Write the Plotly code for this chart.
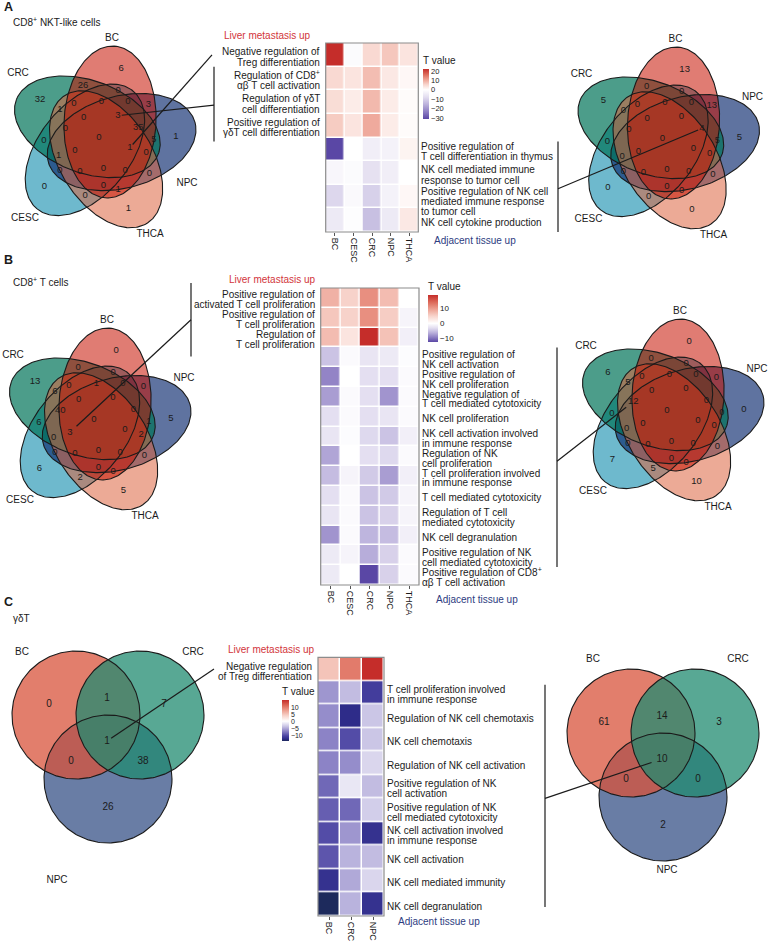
import numpy as np
import plotly.graph_objects as go

W, H = 770, 945
FONT = "Liberation Sans, Arial, Helvetica, sans-serif"
INK = "#1b1b1b"

# ====================== DATA ======================
# ---- Panel A heatmap (T values) ----
HA_COLS = ["BC", "CESC", "CRC", "NPC", "THCA"]
HA_ROWS = [
    "Negative regulation of<br>Treg differentiation",
    "Regulation of CD8<sup>+</sup><br>αβ T cell activation",
    "Regulation of γδT<br>cell differentiation",
    "Positive regulation of<br>γδT cell differentiation",
    "Positive regulation of<br>T cell differentiation in thymus",
    "NK cell mediated immune<br>response to tumor cell",
    "Positive regulation of NK cell<br>mediated immune response<br>to tumor cell",
    "NK cell cytokine production",
]
HA_T = [
    [22, -1, 5, 7, 3.5],
    [5, 3.5, 8, 3, 1],
    [4.5, 2.5, 8.5, 2.5, 0.5],
    [6.5, 3.5, 10, 2.5, 0.5],
    [-31, 0, -4, -3, 1.5],
    [-2, -1, -7, -4, 0],
    [-9, -1.5, -10, -3, 1],
    [-5, -0.5, -13, -5, 3],
]
HA_N_UP = 4
HA_TICKS = [20, 10, 0, -10, -20, -30]

# ---- Panel B heatmap ----
HB_COLS = ["BC", "CESC", "CRC", "NPC", "THCA"]
HB_ROWS = [
    "Positive regulation of<br>activated T cell proliferation",
    "Positive regulation of<br>T cell proliferation",
    "Regulation of<br>T cell proliferation",
    "Positive regulation of<br>NK cell activation",
    "Positive regulation of<br>NK cell proliferation",
    "Negative regulation of<br>T cell mediated cytotoxicity",
    "NK cell proliferation",
    "NK cell activation involved<br>in immune response",
    "Regulation of NK<br>cell proliferation",
    "T cell proliferation involved<br>in immune response",
    "T cell mediated cytotoxicity",
    "Regulation of T cell<br>mediated cytotoxicity",
    "NK cell degranulation",
    "Positive regulation of NK<br>cell mediated cytotoxicity",
    "Positive regulation of CD8<sup>+</sup><br>αβ T cell activation",
]
HB_T = [
    [8, 5, 11, 7, 0],
    [6, 5, 11, 5.5, -1],
    [7, 3, 19, 6.5, -1.5],
    [-5, -0.5, -2.5, -2, -0.3],
    [-9, 0, -3, -3, -0.5],
    [-7.5, -0.5, -3, -8, -0.5],
    [-3, -0.5, -3, -2.5, -0.5],
    [-2.5, -0.3, -3.5, -5, -1.5],
    [-7, 0, -3, -3.5, -0.5],
    [-5.5, -1, -4.5, -7.5, -1.5],
    [-3, -0.5, -5, -4.5, -1],
    [-2.5, -0.5, -5, -4, -1],
    [-8, -0.5, -6, -5.5, -1.5],
    [-2, -1, -6.5, -4, -0.5],
    [-2, 0, -12.5, -4, -0.5],
]
HB_N_UP = 3
HB_TICKS = [10, 0, -10]

# ---- Panel C heatmap ----
HC_COLS = ["BC", "CRC", "NPC"]
HC_ROWS = [
    "Negative regulation<br>of Treg differentiation",
    "T cell proliferation involved<br>in immune response",
    "Regulation of NK cell chemotaxis",
    "NK cell chemotaxis",
    "Regulation of NK cell activation",
    "Positive regulation of NK<br>cell activation",
    "Positive regulation of NK<br>cell mediated cytotoxicity",
    "NK cell activation involved<br>in immune response",
    "NK cell activation",
    "NK cell mediated immunity",
    "NK cell degranulation",
]
HC_T = [
    [5, 10, 15],
    [-6, -4, -11],
    [-6.5, -12.5, -3.5],
    [-7, -10, -3.5],
    [-7, -6.5, -2.5],
    [-8.5, -1.5, -4],
    [-9, -8.5, -3],
    [-10, -6, -12],
    [-9.5, -4.5, -4],
    [-12, -5, -2.5],
    [-14, -4.5, -12],
]
HC_N_UP = 1
HC_TICKS = [10, 5, 0, -5, -10]

# ---- five-set Venn counts ----
SETS5 = ["BC", "NPC", "THCA", "CESC", "CRC"]
REGIONS5 = [
    "BC", "NPC", "THCA", "CESC", "CRC",
    "BC&CRC", "BC&NPC", "NPC&THCA", "THCA&CESC", "CESC&CRC",
    "BC&CESC", "NPC&CRC", "BC&THCA", "NPC&CESC", "THCA&CRC",
    "BC&CESC&CRC", "BC&NPC&CRC", "BC&NPC&THCA", "NPC&THCA&CESC", "THCA&CESC&CRC",
    "BC&NPC&CESC", "NPC&THCA&CRC", "BC&THCA&CESC", "NPC&CESC&CRC", "BC&THCA&CRC",
    "BC&THCA&CESC&CRC", "BC&NPC&CESC&CRC", "BC&NPC&THCA&CRC", "BC&NPC&THCA&CESC", "NPC&THCA&CESC&CRC",
    "BC&NPC&THCA&CESC&CRC",
]
VENN_A_LEFT = [6, 1, 1, 0, 32, 26, 3, 0, 0, 0, 0, 5, 1, 0, 1, 0, 35, 0, 0, 0, 0, 0, 0, 1, 0, 0, 3, 1, 0, 0, 0]
VENN_A_RIGHT = [13, 5, 0, 0, 5, 0, 13, 0, 0, 0, 0, 5, 0, 0, 0, 0, 4, 0, 0, 0, 0, 0, 0, 0, 0, 0, 0, 0, 0, 0, 0]
VENN_B_LEFT = [0, 5, 5, 6, 13, 0, 0, 0, 2, 6, 0, 1, 0, 0, 6, 1, 0, 0, 0, 40, 0, 2, 0, 0, 0, 0, 0, 0, 0, 3, 0]
VENN_B_RIGHT = [0, 0, 10, 7, 6, 0, 0, 0, 5, 0, 0, 0, 0, 0, 5, 0, 0, 0, 0, 12, 0, 0, 0, 0, 0, 0, 0, 0, 0, 0, 0]

# ---- three-set Venn counts ----
SETS3 = ["BC", "CRC", "NPC"]
REGIONS3 = ["BC", "CRC", "NPC", "BC&CRC", "BC&NPC", "CRC&NPC", "BC&CRC&NPC"]
VENN_C_LEFT = [0, 7, 26, 1, 0, 38, 1]
VENN_C_RIGHT = [61, 3, 2, 14, 0, 0, 10]

# ====================== LAYOUT / STYLE ======================
LAB_FS = 10


def X(px):
    return px / W


def Y(py):
    return 1 - py / H


layout = {}
traces, annotations, shapes = [], [], []
_axn = [0]


def add_axes(x0, x1, y0, y1, xr, yr, xkw=None, ykw=None):
    _axn[0] += 1
    s = "" if _axn[0] == 1 else str(_axn[0])
    xa = dict(domain=[X(x0), X(x1)], range=xr, visible=False, fixedrange=True, anchor="y" + s)
    ya = dict(domain=[Y(y1), Y(y0)], range=yr, visible=False, fixedrange=True, anchor="x" + s)
    if xkw:
        xa.update(xkw)
    if ykw:
        ya.update(ykw)
    layout["xaxis" + s] = xa
    layout["yaxis" + s] = ya
    return "x" + s, "y" + s


def add_text(px, py, text, size=LAB_FS, color=INK, anchor="center", yanchor="middle"):
    annotations.append(dict(x=X(px), y=Y(py), xref="paper", yref="paper", text=text, showarrow=False,
                            xanchor=anchor, yanchor=yanchor, align=anchor if anchor != "center" else "center",
                            font=dict(size=size, color=color, family=FONT), borderpad=0))


def add_line(p0, p1, shorten=0.0):
    (x0, y0), (x1, y1) = p0, p1
    d = np.hypot(x1 - x0, y1 - y0)
    if shorten:
        x1 -= (x1 - x0) / d * shorten
        y1 -= (y1 - y0) / d * shorten
    shapes.append(dict(type="line", xref="paper", yref="paper", x0=X(x0), y0=Y(y0), x1=X(x1), y1=Y(y1),
                       line=dict(color=INK, width=1.2)))


# ---------- heatmaps ----------
NEG_AB = [(0, "#ffffff"), (0.25, "#e3def0"), (0.5, "#bbb1dc"), (0.75, "#8d7ec3"), (1, "#5a47a5")]
NEG_C = [(0, "#ffffff"), (0.25, "#cbc6e6"), (0.5, "#8c83c6"), (0.75, "#4a43a2"), (0.9, "#2d2b88"), (1, "#1d2a5c")]
POS = [(0, "#ffffff"), (0.25, "#f8d5cd"), (0.5, "#eda192"), (0.75, "#dc6858"), (1, "#c52d2a")]


def cscale(zmin, zmax, neg, pos):
    z0 = -zmin / (zmax - zmin)
    out = [[z0 * (1 - f), c] for f, c in reversed(neg)]
    out += [[z0 + f * (1 - z0), c] for f, c in pos[1:]]
    return out


def draw_heat(g, cols, rows, vals, n_up, ticks, cb, neg, lh):
    nr, nc = len(rows), len(cols)
    xa, ya = add_axes(g["left"], g["right"], g["top"], g["bottom"], [-0.5, nc - 0.5], [nr - 0.5, -0.5],
                      xkw=dict(visible=True, showgrid=False, zeroline=False, showline=False, tickmode="array",
                               tickvals=list(range(nc)), ticktext=cols, tickangle=90, ticks="outside",
                               ticklen=3, tickwidth=0.8, tickcolor="#555",
                               tickfont=dict(size=9, family=FONT, color=INK)))
    z = np.array(vals, float)
    zmin, zmax = float(z.min()), float(z.max())
    traces.append(go.Heatmap(
        z=z, x=list(range(nc)), y=list(range(nr)), xaxis=xa, yaxis=ya, zmin=zmin, zmax=zmax,
        colorscale=cscale(zmin, zmax, neg, POS), xgap=1.5, ygap=1.5, hoverinfo="skip",
        colorbar=dict(x=X(cb["x"]), xanchor="left", y=Y(cb["top"]), yanchor="top", len=cb["len"],
                      lenmode="pixels", thickness=cb["th"], thicknessmode="pixels", outlinewidth=0,
                      tickmode="array", tickvals=ticks, ticks="", xpad=0, ypad=0,
                      tickfont=dict(size=cb.get("fs", 8), family=FONT, color=INK),
                      title=dict(text="T value", side="top", font=dict(size=10, family=FONT, color=INK)))))
    shapes.append(dict(type="rect", xref=xa + " domain", yref=ya + " domain", x0=0, x1=1, y0=0, y1=1,
                       line=dict(color="#8c8c8c", width=1.2)))
    rh = (g["bottom"] - g["top"]) / nr
    for i, lab in enumerate(rows):
        lines = lab.split("<br>")
        k = len(lines)
        yc = g["top"] + (i + 0.5) * rh + 2 + (3 if k > 2 else 0)
        for j, ln in enumerate(lines):
            py = yc + (j - (k - 1) / 2) * lh
            if i < n_up:
                add_text(g["left"] - 5, py, ln, anchor="right")
            else:
                add_text(g["right"] + 2, py, ln, anchor="left")
    return lambda i: g["top"] + i * rh


# ---------- five-set Venn geometry ----------
A5, B5 = 76.0, 46.0
OFF5_R, OFF5_ANG, DIR5 = 19.7, 66.0, 87.0
# fill colour and opacity per set
FILL5 = {"BC": ((199, 17, 0), 0.55), "NPC": ((9, 40, 109), 0.65), "THCA": ((220, 100, 64), 0.55),
         "CESC": ((13, 138, 172), 0.60), "CRC": ((0, 116, 88), 0.70)}
DRAW_ORDER5 = ["CESC", "NPC", "CRC", "THCA", "BC"]
# label layout: (set offsets of the orbit, radius, angle of the BC member)
ORBITS5 = [((0,), 74, 75), ((0, 1), 58, 37), ((0, 2), 52, -72), ((0, 1, 2), 38.4, -53),
           ((0, 1, 3), 46, 55.8), ((0, 1, 2, 3), 29, -87)]
CENTER5 = (-3, 2)
SETLAB5 = {"BC": (10, 102), "CRC": (-84, 67), "NPC": (87, 44), "CESC": (-77, -78), "THCA": (48, -94)}
TT = np.linspace(0, 2 * np.pi, 241)


def ellipse_xy(k):
    a = np.radians(OFF5_ANG - 72 * k)
    th = np.radians(DIR5 - 72 * k)
    cx, cy = OFF5_R * np.cos(a), OFF5_R * np.sin(a)
    x = cx + A5 * np.cos(TT) * np.cos(th) - B5 * np.sin(TT) * np.sin(th)
    y = cy + A5 * np.cos(TT) * np.sin(th) + B5 * np.sin(TT) * np.cos(th)
    return x, y


LAB5 = {}
for offs, r, a in ORBITS5:
    for k in range(5):
        ang = np.radians(a - 72 * k)
        LAB5[frozenset(SETS5[(o + k) % 5] for o in offs)] = (r * np.cos(ang), r * np.sin(ang))
LAB5[frozenset(SETS5)] = CENTER5


def venn_axes(cx, cy, half):
    x0, x1 = max(0, cx - half), min(W, cx + half)
    y0, y1 = max(0, cy - half), min(H, cy + half)
    return add_axes(x0, x1, y0, y1, [x0 - cx, x1 - cx], [cy - y1, cy - y0])


def rgba(c, a):
    return "rgba(%d,%d,%d,%.2f)" % (c[0], c[1], c[2], a)


def put_counts(xa, ya, pos, regions, counts, size=9.5):
    keys = [frozenset(r.split("&")) for r in regions]
    traces.append(go.Scatter(x=[pos[k][0] for k in keys], y=[pos[k][1] for k in keys],
                             text=[str(c) for c in counts], mode="text", xaxis=xa, yaxis=ya,
                             textfont=dict(size=size, color=INK, family=FONT), cliponaxis=False,
                             hoverinfo="skip", showlegend=False))


def put_setlabels(xa, ya, lab):
    names = list(lab)
    traces.append(go.Scatter(x=[lab[n][0] for n in names], y=[lab[n][1] for n in names], text=names,
                             mode="text", xaxis=xa, yaxis=ya, cliponaxis=False, hoverinfo="skip",
                             textfont=dict(size=10, color=INK, family=FONT), showlegend=False))


def draw_venn5(cx, cy, counts, setlab_over=None):
    xa, ya = venn_axes(cx, cy, 118)
    for name in DRAW_ORDER5:
        x, y = ellipse_xy(SETS5.index(name))
        col, al = FILL5[name]
        traces.append(go.Scatter(x=x, y=y, xaxis=xa, yaxis=ya, mode="lines", fill="toself",
                                 fillcolor=rgba(col, al), line=dict(width=0, color="rgba(0,0,0,0)"),
                                 hoverinfo="skip", showlegend=False))
    for k in range(5):
        x, y = ellipse_xy(k)
        traces.append(go.Scatter(x=x, y=y, xaxis=xa, yaxis=ya, mode="lines", line=dict(color=INK, width=1.1),
                                 hoverinfo="skip", showlegend=False))
    put_counts(xa, ya, LAB5, REGIONS5, counts)
    lab = dict(SETLAB5)
    if setlab_over:
        lab.update(setlab_over)
    put_setlabels(xa, ya, lab)
    return lambda key: (cx + LAB5[frozenset(key.split("&"))][0], cy - LAB5[frozenset(key.split("&"))][1])


# ---------- three-set Venn geometry ----------
R3 = 64.0
CIRC3 = {"BC": (-32, 21), "CRC": (32, 21), "NPC": (0, -43)}
FILL3 = {"BC": (216, 83, 59), "CRC": (32, 139, 112), "NPC": (55, 82, 135)}
DRAW_ORDER3 = ["NPC", "BC", "CRC"]
LAB3 = {frozenset(["BC"]): (-59, 32), frozenset(["CRC"]): (56, 32), frozenset(["NPC"]): (0, -71),
        frozenset(["BC", "CRC"]): (-1, 38), frozenset(["BC", "NPC"]): (-37, -25),
        frozenset(["CRC", "NPC"]): (35, -25), frozenset(["BC", "CRC", "NPC"]): (-1, -5)}


def draw_venn3(cx, cy, counts, setlab):
    xa, ya = venn_axes(cx, cy, 155)
    for name in DRAW_ORDER3:
        ox, oy = CIRC3[name]
        traces.append(go.Scatter(x=ox + R3 * np.cos(TT), y=oy + R3 * np.sin(TT), xaxis=xa, yaxis=ya,
                                 mode="lines", fill="toself", fillcolor=rgba(FILL3[name], 0.75),
                                 line=dict(width=0, color="rgba(0,0,0,0)"), hoverinfo="skip", showlegend=False))
    for name in SETS3:
        ox, oy = CIRC3[name]
        traces.append(go.Scatter(x=ox + R3 * np.cos(TT), y=oy + R3 * np.sin(TT), xaxis=xa, yaxis=ya,
                                 mode="lines", line=dict(color=INK, width=1.1), hoverinfo="skip", showlegend=False))
    put_counts(xa, ya, LAB3, REGIONS3, counts, size=10)
    put_setlabels(xa, ya, setlab)
    return lambda key: (cx + LAB3[frozenset(key.split("&"))][0], cy - LAB3[frozenset(key.split("&"))][1])


RED_TXT = "#d2353b"
BLUE_TXT = "#2d3c7f"

# ====================== PANEL A ======================
add_text(3, 7, "<b>A</b>", size=12.5, anchor="left")
add_text(12, 22, "CD8<sup>+</sup> NKT-like cells", size=10, anchor="left")
GA = dict(left=325.7, right=418.3, top=43, bottom=232)
rowA = draw_heat(GA, HA_COLS, HA_ROWS, HA_T, HA_N_UP, HA_TICKS,
                 dict(x=423, top=53, len=66, th=5.5, fs=7.5), NEG_AB, 10.4)
add_text(267, 36, "Liver metastasis up", color=RED_TXT)
add_text(475, 240, "Adjacent tissue up", color=BLUE_TXT)
vA1 = draw_venn5(102, 140, VENN_A_LEFT, {"NPC": (85, -43)})
vA2 = draw_venn5(665.5, 141, VENN_A_RIGHT)
add_line((212, (rowA(0) + rowA(1)) / 2), vA1("BC&NPC&THCA&CRC"), 4)
add_line((214, rowA(1)), (214, rowA(4) + 4))
add_line((214, (rowA(1) + rowA(4)) / 2 + 3), vA1("BC&NPC&CESC&CRC"), 4)
add_line((558, rowA(4) + 4), (558, rowA(8)))
add_line((558, (rowA(4) + rowA(8)) / 2 + 4), vA2("BC&NPC&CRC"), 4)

# ====================== PANEL B ======================
add_text(3, 260, "<b>B</b>", size=12.5, anchor="left")
add_text(12, 282, "CD8<sup>+</sup> T cells", size=10, anchor="left")
GB = dict(left=320.7, right=419, top=288, bottom=585)
rowB = draw_heat(GB, HB_COLS, HB_ROWS, HB_T, HB_N_UP, HB_TICKS,
                 dict(x=428, top=279, len=63, th=10), NEG_AB, 9.8)
add_text(272, 279, "Liver metastasis up", color=RED_TXT)
add_text(477, 599, "Adjacent tissue up", color=BLUE_TXT)
vB1 = draw_venn5(97, 422, VENN_B_LEFT)
vB2 = draw_venn5(670, 413, VENN_B_RIGHT)
add_line((191, rowB(0) - 5), (191, rowB(3) + 9))
add_line((191, (rowB(0) + rowB(3)) / 2 + 2), vB1("NPC&THCA&CESC&CRC"), 9)
add_line((557, rowB(3)), (557, rowB(15) - 18))
add_line((557, (rowB(3) + rowB(15)) / 2 - 5), vB2("THCA&CESC&CRC"), 9)

# ====================== PANEL C ======================
add_text(3, 602, "<b>C</b>", size=12.5, anchor="left")
add_text(12, 618, "γδT", size=10, anchor="left")
GC = dict(left=318, right=384, top=657.3, bottom=916)
rowC = draw_heat(GC, HC_COLS, HC_ROWS, HC_T, HC_N_UP, HC_TICKS,
                 dict(x=282, top=684, len=57, th=7, fs=7), NEG_C, 10)
add_text(271, 649, "Liver metastasis up", color=RED_TXT)
add_text(439, 921, "Adjacent tissue up", color=BLUE_TXT)
vC1 = draw_venn3(108, 736, VENN_C_LEFT, {"BC": (-86, 84), "CRC": (85, 84), "NPC": (-51, -144)})
vC2 = draw_venn3(663, 754, VENN_C_RIGHT, {"BC": (-70, 95), "CRC": (75, 95), "NPC": (4, -116)})
add_line((214, (rowC(0) + rowC(1)) / 2), vC1("BC&CRC&NPC"), 5)
add_line((545, rowC(1) + 4), (545, rowC(11) - 9))
add_line((545, (rowC(1) + rowC(11)) / 2), vC2("BC&CRC&NPC"), 11)

layout.update(width=W, height=H, margin=dict(l=0, r=0, t=0, b=0), paper_bgcolor="white",
              plot_bgcolor="white", showlegend=False, annotations=annotations, shapes=shapes,
              font=dict(family=FONT, size=9, color=INK))
fig = go.Figure(data=traces, layout=layout)
fig.write_html("out.html", config={"displayModeBar": False},
               post_script="document.documentElement.style.margin='0';document.body.style.margin='0';")
